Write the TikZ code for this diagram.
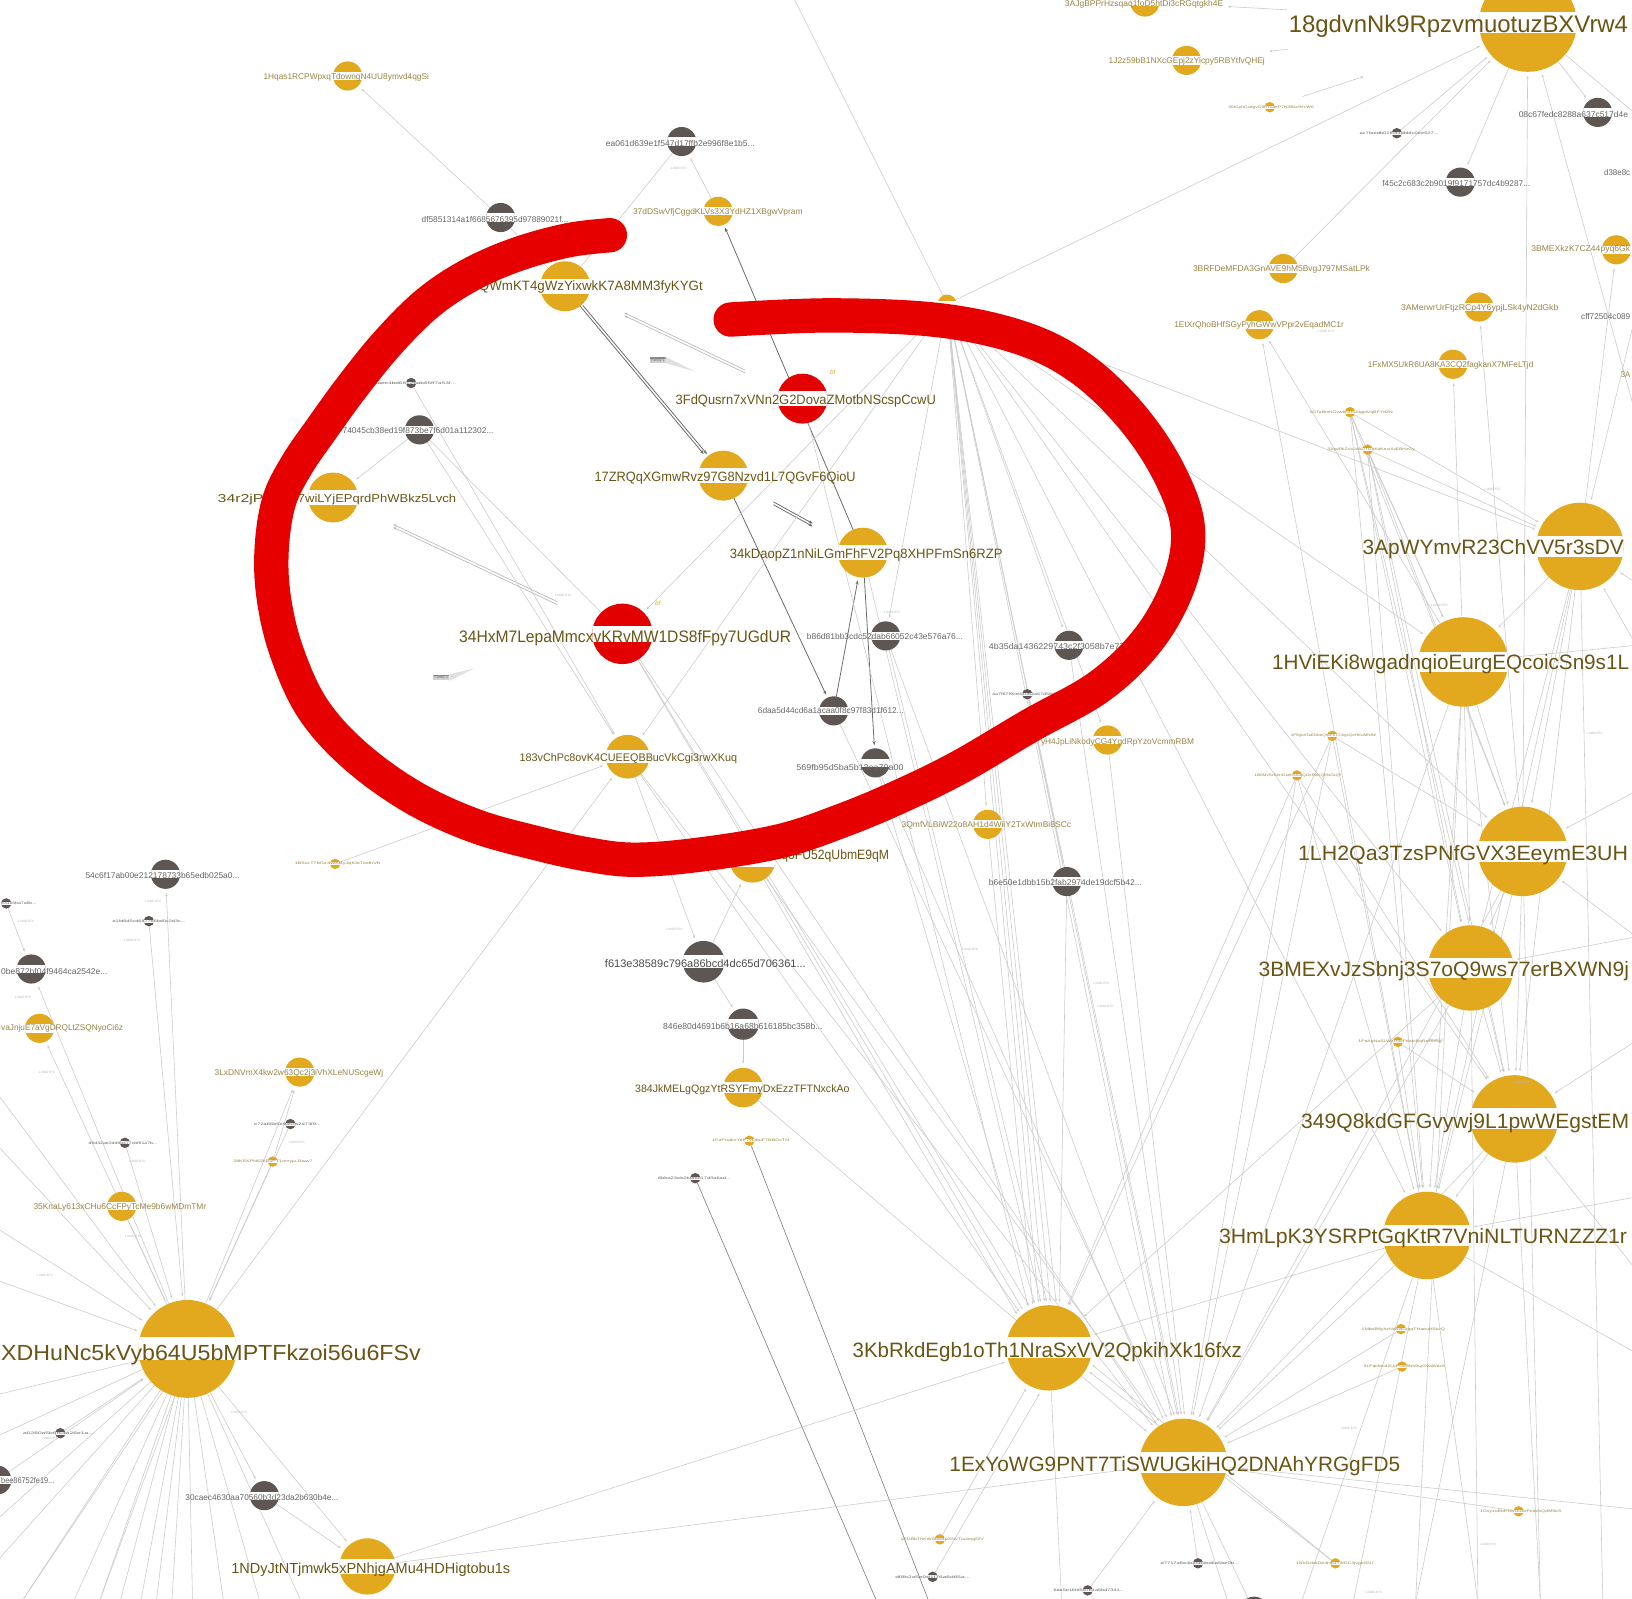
\documentclass[tikz,border=0pt]{standalone}
\usepackage{fontspec}
\setmainfont{Liberation Sans}
\usetikzlibrary{arrows.meta,calc}
\pgfdeclarelayer{bg}
\pgfdeclarelayer{edges}
\pgfsetlayers{bg,edges,main}
\definecolor{gold}{HTML}{E3A91E}
\definecolor{gnode}{HTML}{5E5653}
\definecolor{rnode}{HTML}{E20000}
\definecolor{bigtxt}{HTML}{6B5515}
\definecolor{smtxt}{HTML}{9A8445}
\definecolor{grtxt}{HTML}{666666}
\definecolor{redpen}{HTML}{E60000}
\definecolor{edgec}{HTML}{CBCBCB}
\definecolor{dedgec}{HTML}{6A6A6A}
\newcommand\nd[6]{%
  \node[circle,fill=#5,minimum size={2*#4pt},inner sep=0pt,outer sep=0pt] (#1) at (#2,#3) {};
  \begin{scope}
    \clip (#2,#3) circle[radius=#4pt];
    \fill[white] ({#2-#4-1},{#3-#6}) rectangle ({#2+#4+1},{#3+#6});
  \end{scope}}
\newcommand\lb[7]{\node[anchor=west,inner sep=0pt,text=#6,font=\fontsize{#4pt}{#4pt}\selectfont] (#1) at (#2,#3) {\resizebox{#5pt}{\height}{#7}};}
\newcommand\tn[8]{\nd{#1}{#2}{#3}{5}{#4}{1.4}\lb{l#1}{#6}{#3}{3.4}{#7}{#5}{#8}}
\begin{document}
\begin{tikzpicture}[x=1pt,y=-1pt,
  edge/.style={draw=edgec,line width=0.55pt,-{Stealth[length=3pt,width=2.2pt]},shorten >=4pt},
  ln/.style={draw=edgec,line width=0.55pt},
  fedge/.style={draw=black!30,line width=0.55pt,-{Stealth[length=3pt,width=2.2pt]}},
  dedge/.style={draw=dedgec,line width=0.75pt,-{Stealth[length=4pt,width=3pt]},shorten >=3pt},
  medge/.style={draw=black!50,line width=0.6pt},
  vlab/.style={inner sep=0pt,text=black!28,font=\fontsize{3pt}{3pt}\selectfont},
  fambox/.style={fill=black!18,inner sep=1.2pt,text=black!60,font=\fontsize{3.4pt}{3.4pt}\selectfont,
     path picture={\fill[black!45] (path picture bounding box.north west) rectangle ([yshift=-1.6pt]path picture bounding box.north east);}},
  pen/.style={draw=redpen,line width=33pt,line cap=round,line join=round}]
\useasboundingbox (0,0) rectangle (1568,1536);
\clip (0,0) rectangle (1568,1536);
\begin{pgfonlayer}{bg}\fill[white] (0,0) rectangle (1568,1536);\end{pgfonlayer}

% ---------- big nodes ----------
\nd{n18}{1468}{22}{47}{gold}{10}
\nd{nApW}{1518}{525}{42}{gold}{10}
\nd{nHVi}{1406}{636}{43}{gold}{10}
\nd{nLH2}{1463}{818}{43}{gold}{10}
\nd{nBMX}{1413}{930}{41}{gold}{10}
\nd{n349}{1455}{1075}{42}{gold}{10}
\nd{nHmL}{1371}{1187}{42}{gold}{10}
\nd{nKbR}{1008}{1295}{41}{gold}{10}
\nd{nExY}{1137}{1405}{42}{gold}{10}
\nd{nDHu}{180}{1296}{47}{gold}{11}
\nd{nNDy}{353}{1505}{27}{gold}{7}
% ---------- medium nodes ----------
\nd{nQWm}{543}{275}{24}{gold}{7}
\nd{nFdQ}{771}{383}{24}{rnode}{7}
\nd{n17Z}{695}{457}{24}{gold}{7}
\nd{n34k}{829}{531}{24}{gold}{7}
\nd{n34H}{598}{609}{29}{rnode}{8}
\nd{n34r}{320}{478}{24}{gold}{7}
\nd{n183}{603}{727}{21}{gold}{6}
\nd{noqo}{723}{826}{22}{gold}{7}
\nd{nf613}{676}{924}{20}{gnode}{6}
\nd{n846}{714}{984}{15}{gnode}{4.5}
\nd{n384}{714}{1045}{19}{gold}{5.5}
% ---------- small nodes ----------
\nd{nb86}{851}{611}{14}{gnode}{4}
\nd{n6da}{801}{683}{14}{gnode}{4}
\nd{n569}{841}{733}{14}{gnode}{4}
\nd{n4b3}{1027}{620}{14}{gnode}{4}
\nd{nyH4}{1064}{711}{14}{gold}{4}
\nd{n3Qm}{949}{792}{14}{gold}{4}
\nd{nb6e}{1025}{847}{14}{gnode}{4}
\nd{n740}{403}{413}{14}{gnode}{4}
\nd{ndf5}{481}{209}{14}{gnode}{4}
\nd{nea0}{655}{136}{14}{gnode}{4}
\nd{n37d}{690}{203}{14}{gold}{4}
\nd{n1Hq}{334}{73}{14}{gold}{4}
\nd{n3AJ}{1100}{2}{14}{gold}{4}
\nd{n1J2}{1140}{58}{14}{gold}{4}
\nd{nf45}{1403}{175}{14}{gnode}{4}
\nd{n08c}{1535}{108}{14}{gnode}{4}
\nd{n3BMk}{1553}{240}{14}{gold}{4}
\nd{n3BR}{1233}{258}{14}{gold}{4}
\nd{n3AM}{1421}{295}{14}{gold}{4}
\nd{n1Et}{1210}{312}{14}{gold}{4}
\nd{n1Fx}{1396}{350}{14}{gold}{4}
\nd{n54c}{159}{840}{14}{gnode}{4}
\nd{n0be}{30}{931}{14}{gnode}{4}
\nd{nvaJ}{38}{988}{14}{gold}{4}
\nd{n3Lx}{288}{1030}{14}{gold}{4}
\nd{n35K}{117}{1159}{14}{gold}{4}
\nd{nbee}{-3}{1422}{14}{gnode}{4}
\nd{n30c}{254}{1437}{14}{gnode}{4}
\nd{nbot}{1205}{1548}{14}{gnode}{4}
\nd{nt27}{910}{292}{9}{gold}{3}
% ---------- tiny nodes ----------
\tn{nt1}{987}{667}{gnode}{grtxt}{953}{72}{4a7f67f9cd410b2a67d58d2d1c}
\tn{nt2}{395}{368}{gnode}{grtxt}{356}{82}{c0aee4bd6812bab65ff7a53f...}
\tn{nt3}{1220}{103}{gold}{smtxt}{1180}{82}{35tGyhCxdgvG9hYvaKP7N3BkcfNYW6}
\tn{nt4}{1342}{128}{gnode}{grtxt}{1306}{76}{ac7faedb01f5d3dbbfc0ee627...}
\tn{nt5}{1297}{396}{gold}{smtxt}{1258}{80}{1GTaBmhGvwkcZhUugpiVqBFYdZN}
\tn{nt6}{1314}{432}{gold}{smtxt}{1275}{84}{3JqwRkZVvJzADTGqKdKmzXvEBHzGy}
\tn{nt7}{1280}{707}{gold}{smtxt}{1240}{82}{1F9goATaEDbeQWFhTCbgsQeHEuMNfW}
\tn{nt8}{1246}{745}{gold}{smtxt}{1205}{84}{1B6MvSrSenGsnHUuqQDzRkKQMsGtJjY}
\tn{nt9}{1343}{1001}{gold}{smtxt}{1305}{80}{1FdApNaSLWzR8xFdafcBqReRhNg}
\tn{nt10}{1346}{1277}{gold}{smtxt}{1308}{80}{1MbnB8yhzNd4xEugqTHaeuH5kvQ}
\tn{nt11}{1347}{1313}{gold}{smtxt}{1310}{78}{3LFqkMcd2LkPGe8Nh9ujG9aWaz8}
\tn{nt12}{1459}{1452}{gold}{smtxt}{1422}{78}{1GvyzuBMH4vUu4zFebVxQdM5kS}
\tn{nt13}{1283}{1502}{gold}{smtxt}{1245}{75}{1NhDzkbDe4HpJTJfDC3jvgeSN7}
\tn{nt14}{1151}{1502}{gnode}{grtxt}{1115}{75}{d7717a6e4ba5b4bd6a5be0b...}
\tn{nt15}{903}{1479}{gold}{smtxt}{865}{80}{1FDBbThKWSbw4pXNvTuuimgDiV}
\tn{nt16}{896}{1515}{gnode}{grtxt}{860}{72}{df8b2a5e0d1f76a6d65a...}
\tn{nt17}{1045}{1528}{gnode}{grtxt}{1012}{68}{6da5e16fd5d7b1a5bd7341...}
\tn{nt18}{322}{830}{gold}{smtxt}{283}{82}{1B5xcT7bGz4WKByJqKfe7wdhVb}
\tn{nt19}{6}{868}{gnode}{grtxt}{1}{34}{e31c5ba7a6b...}
\tn{nt20}{143}{885}{gnode}{grtxt}{108}{70}{e1fd6d5cd6877b6bd0c2d3c...}
\tn{nt21}{279}{1080}{gnode}{grtxt}{244}{64}{e72a66b5e9a5cb2d73f9...}
\tn{nt22}{262}{1116}{gold}{smtxt}{224}{76}{38KEKPN62kDuPT1mnyjuJ3ww7}
\tn{nt23}{120}{1098}{gnode}{grtxt}{85}{66}{d5d32ae2dd9b477cbf81a7b...}
\tn{nt24}{58}{1377}{gnode}{grtxt}{22}{68}{a0260a5b6f64a26e1a...}
\tn{nt25}{668}{1132}{gnode}{grtxt}{632}{70}{6bba23eb2b9f8c17d3a6ad...}
\tn{nt26}{720}{1096}{gold}{smtxt}{684}{74}{1FaPuaknYeP7yD8uF7BBDcTN}

% ---------- labels ----------
\lb{l18}{1238}{25}{23}{326}{bigtxt}{18gdvnNk9RpzvmuotuzBXVrw4}
\lb{lApW}{1309}{528}{20}{251}{bigtxt}{3ApWYmvR23ChVV5r3sDV}
\lb{lHVi}{1222}{638}{20}{343}{bigtxt}{1HViEKi8wgadnqioEurgEQcoicSn9s1L}
\lb{lLH2}{1247}{822}{20}{317}{bigtxt}{1LH2Qa3TzsPNfGVX3EeymE3UH}
\lb{lBMX}{1209}{933}{20}{356}{bigtxt}{3BMEXvJzSbnj3S7oQ9ws77erBXWN9j}
\lb{l349}{1250}{1079}{20}{315}{bigtxt}{349Q8kdGFGvywj9L1pwWEgstEM}
\lb{lHmL}{1171}{1190}{20}{392}{bigtxt}{3HmLpK3YSRPtGqKtR7VniNLTURNZZZ1r}
\lb{lKbR}{819}{1299}{20}{374}{bigtxt}{3KbRkdEgb1oTh1NraSxVV2QpkihXk16fxz}
\lb{lExY}{912}{1409}{20}{433}{bigtxt}{1ExYoWG9PNT7TiSWUGkiHQ2DNAhYRGgFD5}
\lb{lDHu}{1}{1302}{21}{403}{bigtxt}{XDHuNc5kVyb64U5bMPTFkzoi56u6FSv}
\lb{lNDy}{222}{1508}{14}{268}{bigtxt}{1NDyJtNTjmwk5xPNhjgAMu4HDHigtobu1s}
\lb{lQWm}{460}{276}{13}{215}{bigtxt}{QWmKT4gWzYixwkK7A8MM3fyKYGt}
\lb{lFdQ}{649}{385}{13}{250}{bigtxt}{3FdQusrn7xVNn2G2DovaZMotbNScspCcwU}
\lb{l17Z}{571}{459}{13}{251}{bigtxt}{17ZRQqXGmwRvz97G8Nzvd1L7QGvF6QioU}
\lb{l34k}{701}{533}{13}{262}{bigtxt}{34kDaopZ1nNiLGmFhFV2Pq8XHPFmSn6RZP}
\lb{l34H}{441}{613}{16}{319}{bigtxt}{34HxM7LepaMmcxvKRvMW1DS8fFpy7UGdUR}
\lb{l34ra}{209}{480}{11}{44}{bigtxt}{34r2jP}
\lb{l34rb}{286}{480}{11}{152}{bigtxt}{7wiLYjEPqrdPhWBkz5Lvch}
\lb{l183}{499}{729}{10.6}{209}{bigtxt}{183vChPc8ovK4CUEEQBBucVkCgi3rwXKuq}
\lb{loqo}{744}{822}{13}{110}{bigtxt}{oqoFU52qUbmE9qM}
\lb{lf613}{581}{926}{10.5}{193}{black!70}{f613e38589c796a86bcd4dc65d706361...}
\lb{l846}{637}{986}{8.4}{153}{grtxt}{846e80d4691b6b16a68b616185bc358b...}
\lb{l384}{610}{1047}{10.3}{206}{bigtxt}{384JkMELgQgzYtRSYFmyDxEzzTFTNxckAo}
\lb{lb86}{775}{612}{8}{150}{grtxt}{b86d81bb3cdc52dab66052c43e576a76...}
\lb{l6da}{728}{683}{8}{140}{grtxt}{6daa5d44cd6a1acaa0f8c97f83d1f612...}
\lb{l569}{765}{737}{8}{103}{grtxt}{569fb95d5ba5b13ea70a00}
\lb{l4b3}{950}{621}{8}{135}{grtxt}{4b35da1436229743c2f3058b7e776}
\lb{lyH4}{1000}{713}{8}{147}{smtxt}{yH4JpLiNkodyCG4YgdRpYzoVcmmRBM}
\lb{l3Qm}{866}{793}{8}{163}{smtxt}{3QmfVLBiW22o8AH1d4WiiY2TxWtmBi8SCc}
\lb{lb6e}{950}{848}{8}{147}{grtxt}{b6e50e1dbb15b2fab2974de19dcf5b42...}
\lb{l740}{329}{414}{8}{145}{grtxt}{74045cb38ed19f873be7f6d01a112302...}
\lb{ldf5}{405}{211}{8}{141}{grtxt}{df5851314a1f6685676395d97889021f...}
\lb{lea0}{582}{138}{8}{143}{grtxt}{ea061d639e1f547d17ffb2e996f8e1b5...}
\lb{l37d}{608}{204}{8}{163}{smtxt}{37dDSwVfjCggdKLVs3X3YdHZ1XBgwVpram}
\lb{l1Hq}{253}{74}{8}{159}{smtxt}{1Hqas1RCPWpxqTdowngN4UU8ymvd4qgSi}
\lb{l3AJ}{1023}{4}{8}{152}{smtxt}{3AJgBPPrHzsqaq1foD5htDi3cRGqtgkh4E}
\lb{l1J2}{1065}{59}{8}{150}{smtxt}{1J2z59bB1NXcGEpj2zYicpy5RBYtfvQHEj}
\lb{lf45}{1328}{176}{8}{142}{grtxt}{f45c2c683c2b9019f9171757dc4b9287...}
\lb{l08c}{1459}{110}{8}{105}{grtxt}{08c67fedc8288a637c517d4e}
\lb{ld38}{1541}{166}{8}{25}{grtxt}{d38e8c}
\lb{l3BMk}{1471}{240}{8}{95}{smtxt}{3BMEXkzK7CZ44pyq6Gk}
\lb{l3BR}{1146}{259}{8}{170}{smtxt}{3BRFDeMFDA3GnAVE9hM5BvgJ797MSatLPk}
\lb{l3AM}{1346}{296}{8}{151}{smtxt}{3AMerwrUrFtjzRCp4Y6ypjLSk4yN2dGkb}
\lb{lcff}{1519}{304}{8}{47}{grtxt}{cff72504c089}
\lb{l1Et}{1128}{313}{8}{163}{smtxt}{1EtXrQhoBHfSGyPyhGWwVPpr2vEqadMC1r}
\lb{l1Fx}{1314}{351}{8}{159}{smtxt}{1FxMX5UkR6UA8KA3CQ2fagkanX7MFeLTjd}
\lb{l3A}{1557}{360}{8}{9}{smtxt}{3A}
\lb{l54c}{82}{841}{8}{148}{grtxt}{54c6f17ab00e212178733b65edb025a0...}
\lb{l0be}{1}{933}{8}{102}{grtxt}{0be872bf04f9464ca2542e...}
\lb{lvaJ}{1}{988}{8}{117}{smtxt}{vaJnjuE7aVgDRQLtZSQNyoCi6z}
\lb{l3Lx}{206}{1031}{8}{162}{smtxt}{3LxDNVmX4kw2w63Qc2j3iVhXLeNUScgeWj}
\lb{l35K}{32}{1160}{8}{166}{smtxt}{35KnaLy613xCHu6CcFPyTcMe9b6wMDmTMr}
\lb{lbee}{1}{1422}{8}{51}{grtxt}{bee86752fe19...}
\lb{l30c}{178}{1439}{8}{147}{grtxt}{30caec4630aa70560b3d23da2b630b4e...}
\node[inner sep=0pt,text=gold,font=\fontsize{6pt}{6pt}\selectfont\itshape] (ic1) at (800,358) {bf};
\node[inner sep=0pt,text=gold,font=\fontsize{6pt}{6pt}\selectfont\itshape] (ic2) at (632,580) {bf};
% family tags
\node[fambox] (fam1) at (632,346) {Family 1};
\node[fambox] (fam2) at (424,651) {Family 2};
\coordinate (ft1) at (668,357);
\coordinate (ft2) at (456,642);
\begin{pgfonlayer}{edges}
\fill[black!12] (fam1.north east) -- (ft1) -- (fam1.south east) -- cycle;
\fill[black!12] (fam2.north east) -- (ft2) -- (fam2.south east) -- cycle;
\end{pgfonlayer}
% edge value labels
\foreach \p/\q in {652/162,541/572,857/588,1274/318,1434/470,1383/582,1532/705,1380/1000,1462/1040,
  147/866,25/885,127/904,22/958,45/1030,132/1116,128/1188,43/1225,285/1098,230/1357,48/1382,
  648/893,932/912,1058/945,1062/967,1296/1372,1430/1484,1320/1530}
  {\node[vlab] at (\p,\q) {1.0000 BTC};}

% ---------- off-screen ends ----------
\coordinate (top1) at (762,-3);
\coordinate (B1) at (893,1540);
\coordinate (B2) at (843,1540);
\foreach \i/\yy in {1/110,2/400,3/300,4/620,5/760,6/900,7/1000,8/1150,9/1300,10/1450,11/560,12/1220}
  {\coordinate (R\i) at (1572,\yy);}
\foreach \i/\xx in {1/1300,2/1360,3/1420,4/1480,5/1540,6/1250,7/1180,8/1020}
  {\coordinate (RB\i) at (\xx,1540);}
\foreach \i/\xx in {1/20,2/70,3/95,4/115,5/135,6/150,7/165,8/185,9/215,10/250,11/290}
  {\coordinate (LB\i) at (\xx,1540);}
\foreach \i/\yy in {1/1340,2/1380,3/1460,4/1050,5/1100,6/1180,7/1230,8/1500}
  {\coordinate (LL\i) at (-3,\yy);}

% ---------- connectors ----------
\begin{pgfonlayer}{edges}
% dark, inside the loop
\draw[dedge,transform canvas={xshift=-1.6pt}] (nQWm) -- (n17Z);
\draw[dedge,transform canvas={xshift=1.6pt}] (nQWm) -- (n17Z);
\draw[dedge] (n34k) -- (n37d);
\draw[dedge] (n17Z) -- (n6da);
\draw[dedge] (n6da) -- (n34k);
\draw[dedge] (n34k) -- (n569);
\draw[dedge,shorten <=31pt,shorten >=31pt,transform canvas={yshift=1.4pt}] (n17Z) -- (n34k);
\draw[dedge,shorten <=31pt,shorten >=31pt,transform canvas={yshift=-1.4pt}] (n17Z) -- (n34k);
\draw[fedge,shorten <=37pt,shorten >=39pt,transform canvas={yshift=1.4pt}] (nFdQ) -- (nQWm);
\draw[fedge,shorten <=37pt,shorten >=39pt,transform canvas={yshift=-1.4pt}] (nFdQ) -- (nQWm);
\draw[fedge,shorten <=40pt,shorten >=40pt,transform canvas={yshift=1.4pt}] (n34H) -- (n34r);
\draw[fedge,shorten <=40pt,shorten >=40pt,transform canvas={yshift=-1.4pt}] (n34H) -- (n34r);
% top left
\draw[edge] (ndf5) -- (n1Hq);
\draw[ln] (ndf5) -- (nQWm);
\draw[edge] (n37d) -- (nea0);
\draw[ln] (nQWm) -- (nea0);
\draw[ln] (top1) -- (nt27);
\draw[edge] (nt2) -- (n183);
\draw[edge] (n740) -- (n34r);
\draw[edge] (n740) -- (n183);
\draw[ln] (n740) -- (n34H);
\draw[edge] (nDHu) -- (n183);
\draw[edge] (nt18) -- (n183);
\draw[edge] (nt27) -- (n183);
\draw[edge] (nt27) -- (n34H);
\draw[edge] (n183) -- (nf613);
\draw[edge] (nf613) -- (noqo);
\draw[edge] (nf613) -- (n846);
\draw[edge] (n846) -- (n384);
\draw[edge] (n34H) -- (nKbR.125);
\draw[edge] (n34H) -- (nKbR.115);
\draw[edge] (n34H) -- (nExY.125);
\draw[edge] (n183) -- (nKbR.130);
\draw[edge] (n183) -- (nExY.130);
\draw[edge] (noqo) -- (nExY.120);
\draw[edge] (noqo) -- (nKbR.135);
\draw[edge] (n384) -- (nExY.140);
\draw[medge] (nt26) -- (B1);
\draw[medge] (nt25) -- (B2);
% center fan
\foreach \a in {80,88,96,104} {\draw[edge] (nt27) -- (nKbR.\a);}
\foreach \a in {95,105} {\draw[edge] (nt27) -- (nExY.\a);}
\foreach \t in {nHmL,n349,nBMX,nLH2,nHVi,nApW,n3Qm,nyH4,nb6e,n4b3,n18,nb86} {\draw[edge] (nt27) -- (\t);}
\draw[edge] (nb86) -- (nKbR.92);
\draw[edge] (n569) -- (nKbR.108);
\draw[edge] (n6da) -- (nExY.110);
\draw[edge] (n569) -- (nExY.115);
\draw[edge] (n4b3) -- (nExY.92);
\draw[edge] (nb6e) -- (nKbR.76);
\draw[edge] (n3Qm) -- (nKbR.112);
\draw[edge] (nyH4) -- (nExY.88);
\draw[edge] (n34k) -- (nKbR.100);
\draw[edge] (nFdQ) -- (nKbR.118);
\draw[edge] (nb86) -- (nExY.100);
\draw[edge] (nt1) -- (nExY.97);
% top right
\draw[edge,shorten <=185pt,shorten >=66pt] (n18) -- (n3AJ);
\draw[edge,shorten <=185pt,shorten >=66pt] (n18) -- (n1J2);
\draw[edge,shorten <=28pt,shorten >=119pt] (nt3) -- (n18);
\draw[edge] (nt4) -- (n18);
\draw[edge] (n3BR) -- (n18);
\draw[edge] (n18) -- (nf45);
\draw[edge] (n18) -- (n08c);
\draw[ln] (n18) -- (R1);
\draw[edge] (R2) -- (n18);
\draw[edge] (nLH2) -- (n18);
\draw[edge] (nApW) -- (n3BMk);
\draw[edge] (nLH2) -- (n3AM);
\draw[edge] (nHVi) -- (n1Fx);
\draw[edge] (nHVi) -- (n1Et);
\draw[edge] (nHmL) -- (n1Et);
% right network
\foreach \t in {nHVi,nLH2,nBMX,n349,nHmL,nApW} {\draw[edge] (nt5) -- (\t);}
\foreach \t in {nHVi,nLH2,nBMX,n349,nApW,nHmL} {\draw[edge] (nt6) -- (\t);}
\foreach \t in {nHVi,nLH2,nBMX,n349,nHmL} {\draw[edge] (nApW) -- (\t);}
\foreach \t in {nLH2,nBMX,n349,nHmL,nExY} {\draw[edge] (nHVi) -- (\t);}
\foreach \t in {nBMX,n349,nHmL,nExY} {\draw[edge] (nLH2) -- (\t);}
\foreach \t in {n349,nHmL,nExY,nKbR} {\draw[edge] (nBMX) -- (\t);}
\foreach \t in {nHmL,nExY} {\draw[edge] (n349) -- (\t);}
\foreach \t in {nExY,nKbR} {\draw[edge] (nHmL) -- (\t);}
\foreach \t in {nHmL,nExY,nKbR,nLH2} {\draw[edge] (nt7) -- (\t);}
\foreach \t in {nHmL,nExY,nKbR,n349} {\draw[edge] (nt8) -- (\t);}
\draw[edge] (nt9) -- (nHmL);
\draw[edge] (nt9) -- (n349);
\draw[edge] (nt10) -- (nExY);
\draw[edge] (nt11) -- (nExY);
\draw[edge] (nt12) -- (nExY);
\draw[edge] (nt13) -- (nKbR.-20);
\draw[edge] (nt13) -- (nKbR.-30);
\draw[edge] (nt14) -- (nExY);
\draw[edge] (nt15) -- (nKbR);
\draw[edge] (nt16) -- (nKbR.-100);
\draw[edge] (nt17) -- (nExY);
\draw[ln] (nbot) -- (nExY);
\foreach \s/\t in {R3/nApW,R4/nHVi,R5/nLH2,R6/nBMX,R7/n349,R8/nHmL,R11/nApW,R12/n349,R4/nApW,R6/nLH2}
  {\draw[edge] (\s) -- (\t);}
\draw[ln] (nHmL) -- (R9);
\draw[ln] (nExY) -- (R10);
\foreach \s/\t in {nHmL/RB1,n349/RB2,nBMX/RB3,nLH2/RB4,nApW/RB5,nHmL/RB6,nExY/RB7,nKbR/RB8,nHVi/RB2,n349/RB4,nHmL/RB3}
  {\draw[ln] (\s) -- (\t);}
% left hub
\draw[edge] (n35K) -- (nDHu);
\draw[edge] (nDHu) -- (nvaJ);
\draw[edge] (nDHu) -- (n0be);
\draw[edge] (nt19) -- (n0be);
\draw[edge] (nDHu) -- (n54c);
\draw[edge] (nt20) -- (nDHu);
\draw[edge] (nt23) -- (nDHu);
\draw[edge] (nDHu) -- (n3Lx);
\draw[edge] (nt21) -- (nDHu);
\draw[edge] (nt22) -- (nDHu);
\draw[edge] (nt22) -- (n3Lx);
\draw[edge] (nDHu) -- (n30c);
\draw[edge] (nDHu) -- (nNDy);
\draw[edge] (nt24) -- (nDHu);
\draw[edge] (nbee) -- (nDHu);
\foreach \i in {1,...,11} {\draw[ln] (nDHu) -- (LB\i);}
\foreach \i in {1,2,3,8} {\draw[ln] (nDHu) -- (LL\i);}
\foreach \i in {4,5,6,7} {\draw[edge] (LL\i) -- (nDHu);}
\draw[ln] (LB1) -- (nDHu.-120);
\draw[ln] (LB3) -- (nDHu.-105);
\draw[edge] (nNDy) -- (nKbR);
\draw[edge] (nNDy) -- (nExY);
\draw[edge] (n30c) -- (nNDy);
\end{pgfonlayer}

% ---------- red hand-drawn loop ----------
\draw[pen] plot[smooth,tension=0.6] coordinates {
 (586,226) (545,231) (495,245) (450,265) (410,292) (372,330) (338,372) (309,412) (285,447)
 (268,482) (261,528) (263,574) (275,625) (300,680) (340,725) (395,765) (455,793) (515,810)
 (565,821) (610,826) (673,821) (750,808) (810,788) (865,765) (922,737) (990,697) (1057,659)
 (1105,612) (1134,557) (1141,505) (1122,452) (1087,400) (1040,355) (985,326) (905,308)
 (800,303) (702,307)};
\end{tikzpicture}
\end{document}
